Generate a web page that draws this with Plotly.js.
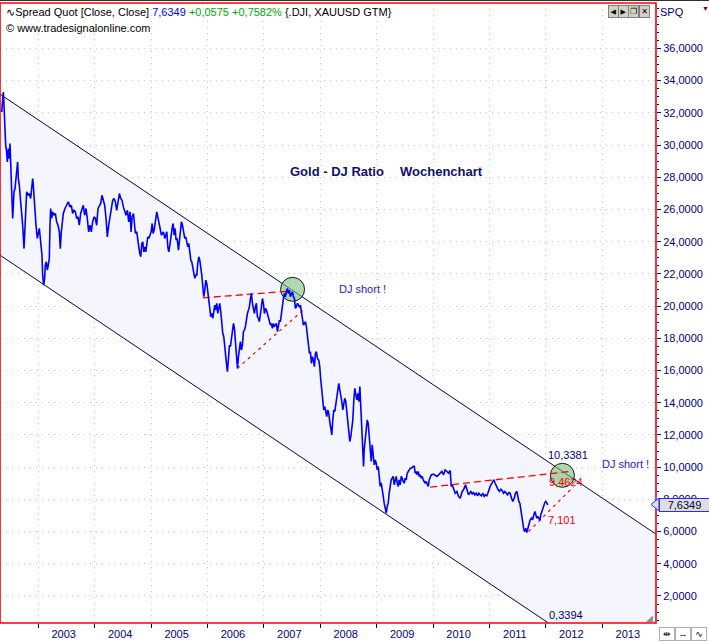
<!DOCTYPE html>
<html><head><meta charset="utf-8">
<script src="https://cdn.plot.ly/plotly-3.0.1.min.js"></script>
<style>html,body{margin:0;padding:0;background:#fff;overflow:hidden}#chart{width:709px;height:642px}</style>
</head><body><div id="chart"></div>
<script>
// Weekly Dow Jones / Gold ratio (decimal year, value)
const years = [
2002.349,2002.366,2002.378,2002.390,2002.402,2002.420,2002.437,2002.449,2002.467,2002.485,2002.496,2002.508,2002.526,2002.544,2002.556,2002.567,2002.585,2002.603,2002.615,2002.632,2002.644,2002.662,2002.686,2002.703,2002.721,2002.745,2002.757,2002.768,2002.780,2002.792,2002.816,2002.839,2002.863,2002.881,2002.899,2002.910,2002.922,2002.940,2002.958,2002.981,2002.999,
2003.017,2003.029,2003.046,2003.064,2003.076,2003.094,2003.111,2003.123,2003.141,2003.159,2003.176,2003.194,2003.206,2003.218,2003.236,2003.253,2003.277,2003.301,2003.324,2003.348,2003.372,2003.389,2003.407,2003.425,2003.443,2003.472,2003.502,2003.531,2003.561,2003.585,2003.608,2003.632,2003.656,2003.679,2003.703,2003.726,2003.750,2003.774,2003.797,2003.821,2003.845,2003.868,2003.892,2003.916,2003.939,2003.963,2003.987,
2004.010,2004.034,2004.058,2004.081,2004.105,2004.129,2004.152,2004.176,2004.200,2004.223,2004.247,2004.271,2004.294,2004.318,2004.341,2004.365,2004.389,2004.412,2004.436,2004.460,2004.483,2004.507,2004.531,2004.554,2004.578,2004.602,2004.625,
2004.643,2004.661,2004.685,2004.702,2004.720,2004.744,2004.761,2004.779,2004.797,2004.815,2004.832,2004.850,2004.868,2004.886,2004.903,2004.921,2004.939,2004.957,2004.980,2004.998,
2005.016,2005.033,2005.051,2005.075,2005.098,2005.116,2005.134,2005.158,2005.181,2005.199,2005.217,2005.240,2005.258,2005.276,2005.294,2005.311,2005.335,2005.353,2005.370,2005.388,2005.406,2005.424,2005.441,2005.459,2005.483,2005.501,2005.518,2005.536,2005.554,2005.572,2005.595,2005.613,2005.631,2005.648,2005.666,2005.684,2005.702,2005.719,2005.737,2005.755,2005.773,2005.790,2005.808,2005.826,2005.844,2005.861,2005.879,2005.897,2005.915,2005.932,2005.950,2005.968,2005.986,
2006.003,2006.021,2006.039,2006.056,2006.074,2006.092,2006.110,2006.127,2006.145,2006.163,2006.181,2006.198,2006.216,2006.234,2006.252,2006.269,2006.287,2006.305,2006.323,2006.340,2006.352,2006.370,2006.388,2006.405,2006.423,2006.441,2006.459,2006.476,2006.494,2006.512,2006.530,
2006.547,2006.565,2006.582,2006.600,2006.618,2006.636,2006.653,2006.671,2006.689,2006.707,2006.724,2006.742,2006.760,2006.778,2006.795,2006.813,2006.831,2006.849,2006.866,2006.884,2006.902,2006.919,2006.937,2006.955,2006.973,2006.990,
2007.008,2007.026,2007.044,2007.061,2007.079,2007.097,2007.115,2007.132,2007.150,2007.168,2007.186,2007.203,2007.221,2007.239,2007.257,2007.274,2007.292,2007.310,2007.328,2007.345,2007.363,2007.381,2007.398,2007.416,2007.434,2007.452,2007.469,2007.487,2007.505,2007.523,2007.540,2007.558,2007.576,2007.594,2007.611,2007.629,2007.647,2007.665,2007.682,2007.700,2007.718,2007.736,2007.753,2007.771,2007.789,2007.807,2007.824,2007.842,2007.860,2007.877,2007.895,2007.913,2007.931,2007.948,
2007.972,2007.990,2008.008,2008.025,2008.043,2008.061,2008.079,2008.096,2008.114,2008.132,2008.150,2008.167,2008.185,2008.203,2008.221,2008.238,2008.256,2008.274,2008.292,2008.309,2008.327,2008.345,2008.362,2008.380,2008.398,2008.416,2008.433,2008.451,2008.469,2008.487,2008.504,2008.522,2008.540,2008.558,2008.575,2008.593,2008.611,2008.629,2008.646,2008.664,2008.682,2008.700,2008.717,2008.735,2008.753,2008.765,2008.776,2008.794,2008.812,2008.830,2008.847,2008.865,2008.883,2008.901,2008.918,2008.936,2008.954,2008.972,2008.989,
2009.007,2009.025,2009.043,2009.060,2009.078,2009.096,2009.114,2009.131,2009.149,2009.167,2009.184,2009.202,2009.220,2009.238,2009.255,2009.273,2009.291,2009.309,2009.326,2009.344,2009.362,2009.380,2009.397,2009.415,2009.433,2009.451,2009.468,2009.486,2009.504,2009.522,2009.539,2009.557,2009.575,2009.593,2009.610,2009.628,2009.646,2009.663,2009.681,2009.699,2009.717,2009.734,2009.752,2009.770,2009.788,2009.805,2009.823,2009.841,2009.859,2009.876,2009.894,2009.912,2009.930,2009.947,2009.965,
2010.006,2010.036,2010.065,2010.095,2010.124,2010.154,2010.184,2010.213,2010.243,2010.272,2010.302,2010.320,2010.337,2010.361,2010.391,2010.420,2010.450,2010.479,2010.497,2010.515,2010.538,2010.556,2010.574,2010.592,2010.609,2010.627,2010.645,2010.669,2010.692,2010.716,2010.739,2010.763,2010.787,2010.810,2010.834,2010.858,2010.881,2010.905,2010.929,2010.952,2010.970,2010.988,
2011.011,2011.035,2011.059,2011.077,2011.094,2011.112,2011.130,2011.153,2011.177,2011.201,2011.224,2011.248,2011.272,2011.295,2011.319,2011.343,2011.366,2011.390,2011.414,2011.437,2011.461,2011.485,2011.502,2011.520,2011.538,2011.556,2011.573,2011.591,2011.609,2011.627,2011.644,2011.662,2011.680,2011.698,2011.721,2011.745,2011.763,2011.780,2011.804,2011.822,2011.839,2011.857,2011.875,2011.893,2011.910,2011.928,2011.946,2011.964,2011.981,2011.999,2012.017,2012.035
];
const ratio = [
32.05,32.88,33.29,32.46,31.02,29.98,29.57,28.95,29.78,29.16,30.09,28.95,27.92,25.44,26.26,27.09,27.30,27.92,28.54,28.95,27.92,27.50,26.47,25.85,25.02,23.57,24.61,25.64,26.68,27.09,26.88,26.99,26.68,27.30,27.92,27.50,26.68,25.64,25.02,24.20,24.61,
24.82,24.40,23.57,23.16,21.92,21.30,21.72,22.54,22.75,22.23,22.54,22.96,25.02,26.06,25.44,25.85,25.64,25.75,25.23,25.02,24.61,23.57,24.61,25.23,25.75,26.06,26.26,26.47,26.16,26.26,25.75,25.95,25.85,25.44,25.54,25.02,25.75,26.06,26.26,25.64,26.06,25.44,24.61,25.02,24.61,25.23,25.54,
25.44,25.02,26.06,26.26,26.37,26.88,26.57,26.26,25.44,24.30,25.02,25.64,26.26,26.57,26.68,26.47,25.95,26.57,26.99,26.68,26.57,26.16,25.85,25.64,25.95,25.23,25.85,
24.61,25.54,25.75,25.13,24.51,24.61,23.89,23.68,23.27,23.06,23.89,23.99,23.37,23.68,23.37,23.89,24.30,24.20,24.40,24.61,
25.13,24.51,24.71,25.33,25.85,25.54,25.23,25.02,24.40,24.51,24.61,24.20,24.40,24.61,23.68,23.37,23.89,24.51,24.82,25.13,24.40,24.82,24.09,24.20,23.47,24.09,24.82,25.23,25.02,24.71,24.20,24.30,23.99,23.68,23.89,23.37,22.85,22.75,22.34,22.23,21.72,21.92,21.92,22.65,23.06,22.85,22.44,21.92,21.20,20.58,20.99,21.61,21.41,
20.79,20.17,19.65,19.34,19.55,19.24,19.65,20.06,19.75,20.17,19.55,19.96,20.17,19.65,18.72,18.31,18.10,17.27,16.86,16.24,15.93,17.06,17.58,17.48,18.10,18.51,18.92,18.61,17.89,16.86,16.13,
16.86,17.48,17.79,17.27,17.58,18.41,18.51,18.72,19.34,19.54,19.75,19.96,20.47,20.78,20.17,19.86,19.54,19.96,20.17,19.34,19.24,19.03,19.75,19.96,20.47,20.17,
19.54,19.86,19.75,19.54,19.34,19.13,18.82,18.92,18.62,18.92,18.72,18.82,18.92,18.41,18.72,19.13,19.03,19.54,20.17,20.47,20.78,20.58,20.89,21.10,20.78,20.99,20.58,20.78,20.89,20.58,20.47,19.86,19.96,20.17,20.06,19.96,20.06,19.54,19.03,18.82,18.92,19.03,18.72,18.20,17.68,17.06,17.17,16.44,16.86,16.65,16.24,17.06,17.17,16.75,
16.65,16.24,15.41,14.79,14.07,13.55,13.76,13.45,13.14,13.55,13.34,12.83,12.31,12.00,12.93,13.55,13.45,13.86,14.38,14.58,15.20,14.79,14.48,14.07,13.55,13.96,14.27,14.07,13.34,12.52,11.90,11.59,11.90,12.31,12.93,14.17,14.89,14.48,14.17,14.58,14.07,15.00,13.76,12.52,11.28,10.04,11.07,11.69,11.90,12.93,12.72,11.90,11.28,10.35,11.38,10.66,10.14,10.45,10.24,
9.83,10.04,9.42,8.80,9.02,8.69,8.18,7.76,7.45,7.14,7.56,7.76,8.38,9.02,9.21,9.31,9.42,8.90,9.31,9.42,9.00,8.80,9.21,8.90,9.42,9.31,9.11,9.00,9.31,9.21,9.62,9.73,9.83,9.93,9.93,9.99,10.04,10.08,9.62,9.73,9.52,9.73,9.42,9.52,9.31,9.42,9.21,9.11,9.00,9.11,8.90,8.80,9.21,9.42,9.52,
9.56,9.46,9.42,9.52,9.62,9.73,9.52,9.83,9.73,9.62,9.79,8.80,8.90,8.59,8.38,8.49,8.18,8.07,8.38,8.49,8.59,8.80,8.90,8.69,8.49,8.28,8.38,8.49,8.34,8.42,8.28,8.38,8.22,8.38,8.28,8.22,8.38,8.18,8.28,8.22,8.38,8.59,
8.80,8.96,9.11,9.21,9.04,8.90,8.69,8.59,8.49,8.63,8.55,8.38,8.49,8.38,8.28,8.42,8.38,8.07,7.87,8.07,8.38,8.49,8.07,7.87,7.76,7.25,6.83,6.52,6.11,6.00,6.21,5.94,6.27,6.42,6.73,6.83,6.73,6.98,7.25,7.04,6.83,6.94,6.77,6.69,7.04,7.25,7.45,7.66,7.80,7.87,7.76,7.66
];
// Trend channel (width 10) and pattern lines
const channelYears = [2002.319, 2013.951];
const channelLower = [23.16, -4.16];
const channelUpper = [33.16, 5.84];
const neck1Years = [2005.915, 2007.416], neck1Vals = [20.51, 20.92];
const rise1Years = [2006.529, 2007.730], rise1Vals = [16.14, 19.86];
const neck2Years = [2009.947, 2012.401], neck2Vals = [8.76, 9.72];
const rise2Years = [2011.691, 2012.489], rise2Vals = [6.00, 8.79];
const circleYears = [2007.508, 2012.292], circleVals = [21.04, 9.49];
const yearLabels = ['2003','2004','2005','2006','2007','2008','2009','2010','2011','2012','2013'];
const yTickVals = [2,4,6,8,10,12,14,16,18,20,22,24,26,28,30,32,34,36];
const xRangeYears = [2002.319, 2013.951];
const yRange = [0.32, 38.82];

function toDate(d){
  const y = Math.floor(d);
  const s = Date.UTC(y,0,1), e = Date.UTC(y+1,0,1);
  return new Date(s + (d-y)*(e-s)).toISOString().slice(0,19).replace('T',' ');
}
const D = a => a.map(toDate);

const NAVY = '#000080';
const traces = [
  {x:D(channelYears), y:channelLower, mode:'lines', line:{color:'#000050', width:1}, hoverinfo:'skip'},
  {x:D(channelYears), y:channelUpper, mode:'lines', line:{color:'#000050', width:1}, fill:'tonexty', fillcolor:'#f4f5fd', hoverinfo:'skip'},
  {x:D(circleYears), y:circleVals, mode:'markers', marker:{size:24, color:'rgba(120,190,120,0.6)', line:{color:'#1a1a1a', width:1}}, hoverinfo:'skip'},
  {x:D(neck1Years), y:neck1Vals, mode:'lines', line:{color:'#ff0000', width:1.3, dash:'7px,4px'}, hoverinfo:'skip'},
  {x:D(rise1Years), y:rise1Vals, mode:'lines', line:{color:'#ff0000', width:1.2, dash:'3px,4px'}, hoverinfo:'skip'},
  {x:D(neck2Years), y:neck2Vals, mode:'lines', line:{color:'#ff0000', width:1.3, dash:'7px,4px'}, hoverinfo:'skip'},
  {x:D(rise2Years), y:rise2Vals, mode:'lines', line:{color:'#ff0000', width:1.2, dash:'3px,4px'}, hoverinfo:'skip'},
  {x:D(years), y:ratio, mode:'lines', line:{color:'#0000ff', width:1.6}, hoverinfo:'skip'}
];

const PW = 656, PT = 3, PB = 623, PH = PB-PT;
function ann(px, py, text, o){
  return Object.assign({xref:'paper', yref:'paper', x:px/PW, y:(PB-py)/PH, text:text, showarrow:false,
    xanchor:'left', yanchor:'middle', font:{size:11, color:NAVY}}, o||{});
}
const yearStarts = []; const yearMids = [];
for (let i=0;i<yearLabels.length;i++){ const yy=+yearLabels[i]; yearStarts.push(toDate(yy)); yearMids.push(toDate(yy+0.45)); }

const annotations = [
  ann(4, 12, '∿Spread Quot [Close, Close] <span style="color:#0000ff">7,6349</span> <span style="color:#00a800">+0,0575 +0,7582%</span> {.DJI, XAUUSD GTM}', {font:{size:11, color:'#000000'}}),
  ann(4, 28, '© www.tradesignalonline.com', {font:{size:11, color:'#000000'}}),
  ann(288, 171, '<b>Gold - DJ Ratio</b>', {font:{size:13, color:'#101070'}}),
  ann(398, 171, '<b>Wochenchart</b>', {font:{size:13, color:'#101070'}}),
  ann(337, 289, 'DJ short !', {font:{size:11, color:'#1a1ad8'}}),
  ann(600, 464, 'DJ short !', {font:{size:11, color:'#1a1ad8'}}),
  ann(568, 455, '10,3381', {xanchor:'center', font:{size:11, color:NAVY}}),
  ann(566, 482, '9,4624', {xanchor:'center', font:{size:11, color:'#ff0000'}}),
  ann(562, 520, '7,101', {xanchor:'center', font:{size:11, color:'#ff0000'}}),
  ann(566, 615, '0,3394', {xanchor:'center', font:{size:11, color:NAVY}}),
  ann(658, 12, 'SPQ', {font:{size:11, color:NAVY}}),
  ann(705, 9, '▼', {xanchor:'center', font:{size:7, color:'#800000'}}),
  ann(684, 504.5, '7,6349', {xanchor:'center', bgcolor:'#dedede', bordercolor:'#2030ff', borderwidth:1, borderpad:0, width:49, height:12, font:{size:11, color:'#000040'}}),
  ann(613.5, 11, '◀', {xanchor:'center', bgcolor:'#d4d0c8', bordercolor:'#808080', borderwidth:1, borderpad:0, width:9, height:11, font:{size:7, color:'#000000'}}),
  ann(623.5, 11, '▶', {xanchor:'center', bgcolor:'#d4d0c8', bordercolor:'#808080', borderwidth:1, borderpad:0, width:9, height:11, font:{size:7, color:'#000000'}}),
  ann(633.5, 11, '❐', {xanchor:'center', bgcolor:'#d4d0c8', bordercolor:'#808080', borderwidth:1, borderpad:0, width:9, height:11, font:{size:8, color:'#000000'}}),
  ann(644.5, 11, '✕', {xanchor:'center', bgcolor:'#d4d0c8', bordercolor:'#808080', borderwidth:1, borderpad:0, width:9, height:11, font:{size:8, color:'#000000'}}),
  ann(667, 634, '⇹', {xanchor:'center', bgcolor:'#ffffff', bordercolor:'#b0b0b0', borderwidth:1, borderpad:0, width:14, height:12, font:{size:9, color:'#000000'}}),
  ann(683, 634, '↔', {xanchor:'center', bgcolor:'#ffffff', bordercolor:'#b0b0b0', borderwidth:1, borderpad:0, width:14, height:12, font:{size:9, color:'#000000'}}),
  ann(699, 634, '∿', {xanchor:'center', bgcolor:'#ffffff', bordercolor:'#b0b0b0', borderwidth:1, borderpad:0, width:14, height:12, font:{size:9, color:'#000000'}}),
  ann(649.5, 617.5, '◢', {xanchor:'center', font:{size:9, color:'#909090'}})
];

const px2 = (x,y) => (x/PW).toFixed(5)+','+((PB-y)/PH).toFixed(5);
const shapes = [
  {type:'line', xref:'paper', yref:'paper', x0:0, x1:709/PW, y0:(PB-0.5)/PH, y1:(PB-0.5)/PH, line:{color:'#303030', width:1}},
  {type:'rect', xref:'paper', yref:'paper', x0:0, x1:1, y0:0, y1:1, line:{color:'#ff0000', width:1.6}, layer:'above'},
  {type:'path', xref:'paper', yref:'paper', path:'M'+px2(651,504.5)+' L'+px2(659,498)+' L'+px2(659,511)+' Z', fillcolor:'#dedede', line:{color:'#2030ff', width:1}}
];

const layout = {
  width:709, height:642,
  margin:{l:0, r:53, t:3, b:19, pad:0},
  paper_bgcolor:'#ffffff', plot_bgcolor:'#ffffff',
  separators:',.',
  showlegend:false,
  font:{family:'"Liberation Sans", Arial, "DejaVu Sans", sans-serif', size:11, color:NAVY},
  xaxis:{type:'date', range:[toDate(xRangeYears[0]), toDate(xRangeYears[1])],
    tickmode:'array', tickvals:yearMids, ticktext:yearLabels, ticks:'outside', ticklen:0.5, tickcolor:'rgba(0,0,0,0)',
    showgrid:false, zeroline:false, showline:false, tickfont:{size:11, color:NAVY},
    minor:{tickmode:'array', tickvals:yearStarts, ticks:'outside', ticklen:4, tickwidth:1, tickcolor:NAVY,
      showgrid:true, gridcolor:'#c4c4c4', griddash:'1px,5px', gridwidth:1}},
  yaxis:{side:'right', range:yRange, tickmode:'array', tickvals:yTickVals, tickformat:'.4f',
    ticks:'outside', ticklen:4, tickwidth:1, tickcolor:NAVY, showgrid:true, gridcolor:'#c4c4c4', griddash:'1px,5px', gridwidth:1,
    zeroline:false, showline:false, tickfont:{size:11, color:NAVY},
    minor:{dtick:0.5, tick0:0, ticks:'outside', ticklen:2, tickwidth:1, tickcolor:NAVY, showgrid:false}},
  shapes:shapes,
  annotations:annotations
};
Plotly.newPlot('chart', traces, layout, {staticPlot:true, displayModeBar:false});
</script></body></html>
